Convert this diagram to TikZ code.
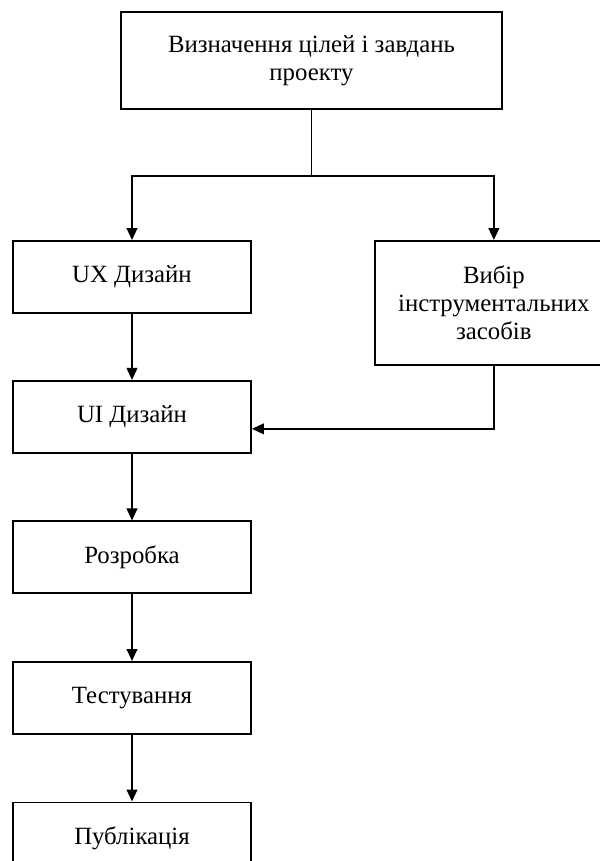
\documentclass[tikz,border=0pt]{standalone}
\usepackage{fontspec}
\setmainfont{Liberation Serif}
\usetikzlibrary{positioning,arrows.meta}

\begin{document}
\begin{tikzpicture}[
  stagebox/.style={draw, line width=1.4pt, align=center, font=\fontsize{18.6}{21}\selectfont, minimum width=178.5pt, minimum height=54pt, inner sep=0pt},
  arrow/.style={-{Triangle[length=9pt, width=8pt]}, line width=1.4pt},
  link/.style={line width=1.4pt}
]
  \useasboundingbox (0pt,0pt) rectangle (450pt,-645.75pt);

  \node[stagebox, minimum width=285.75pt, minimum height=72.75pt] (goal) at (233.6pt,-45.4pt) {Визначення цілей і завдань\\проекту};
  \node[stagebox] (ux) at (99pt,-207.75pt) {UX Дизайн};
  \node[stagebox, minimum height=93pt, right=91.5pt of ux.north east, anchor=north west] (tools) {Вибір\\інструментальних\\засобів};
  \node[stagebox, below=49.5pt of ux] (ui) {UI Дизайн};
  \node[stagebox, below=50pt of ui] (dev) {Розробка};
  \node[stagebox, below=50pt of dev] (test) {Тестування};
  \node[stagebox, below=50pt of test] (pub) {Публікація};

  \coordinate[below=49.5pt of goal.south] (split);

  \draw[link] (goal.south) -- (split);
  \draw[arrow] (split) -| (ux.north);
  \draw[arrow] (split) -| (tools.north);
  \draw[arrow] (ux) -- (ui);
  \draw[arrow] (tools.south) |- ([yshift=-9pt]ui.east);
  \draw[arrow] (ui) -- (dev);
  \draw[arrow] (dev) -- (test);
  \draw[arrow] (test) -- (pub);
\end{tikzpicture}
\end{document}
